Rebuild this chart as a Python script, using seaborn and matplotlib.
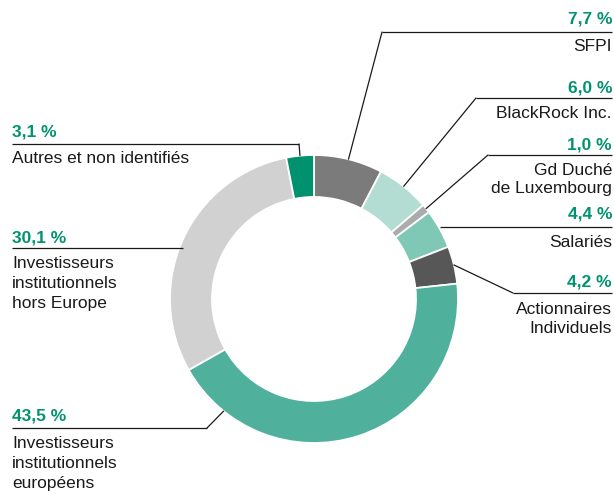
import numpy as np
import matplotlib
matplotlib.use("Agg")
import matplotlib.pyplot as plt
import seaborn as sns

# ---- data ----
categories = ["SFPI", "BlackRock Inc.", "Gd Duché\nde Luxembourg", "Salariés",
              "Actionnaires\nIndividuels", "Investisseurs\ninstitutionnels\neuropéens",
              "Investisseurs\ninstitutionnels\nhors Europe", "Autres et non identifiés"]
values = [7.7, 6.0, 1.0, 4.4, 4.2, 43.5, 30.1, 3.1]
value_labels = ["7,7 %", "6,0 %", "1,0 %", "4,4 %", "4,2 %", "43,5 %", "30,1 %", "3,1 %"]
colors = ["#7b7b7b", "#b3ddd3", "#ababab", "#80c8b6", "#575757", "#4fb19b", "#d1d1d1", "#00916f"]

sns.set_theme(style="white")
plt.rcParams["font.family"] = ["Liberation Sans Narrow", "Liberation Sans", "DejaVu Sans"]

W, H = 614, 494
fig = plt.figure(figsize=(W / 100, H / 100), dpi=100)
ax = fig.add_axes([0, 0, 1, 1])

def Y(py):
    return H - py

cx, cy, R, ring = 314, 299, 144, 42
ax.pie(values, colors=colors, startangle=90, counterclock=False, radius=R,
       center=(cx, Y(cy)), wedgeprops=dict(width=ring, edgecolor="white", linewidth=1.3))
ax.set_xlim(0, W)
ax.set_ylim(0, H)
ax.set_aspect("equal")
ax.axis("off")

# anchor position along the ring (fraction of the whole), mostly wedge midpoints
cum = np.cumsum([0] + values)
mids = (cum[:-1] + cum[1:]) / 2 / 100.0
anchor_frac = list(mids)
anchor_frac[5] = 0.608  # européens connector placed lower-left

def anchor(i):
    a = 2 * np.pi * anchor_frac[i]
    return cx + R * np.sin(a), cy - R * np.cos(a)

green = "#00936f"
lc = "#1a1a1a"
lw = 0.9
fs_v = 12.5
fs_t = 12.5

# label layout: (side, value y, line y, knee x, text y, line spacing)
layout = [
    ("R", 19, 32, 382, 47, 1.25),
    ("R", 88, 98, 476, 114, 1.25),
    ("R", 145, 155, 488, 171, 1.25),
    ("R", 214, 227, None, 243, 1.25),
    ("R", 282, 293, 513, 310, 1.3),
    ("L", 416, 428, 207, 444, 1.43),
    ("L", 238, 248, None, 264, 1.43),
    ("L", 132, 144, 299, 159, 1.3),
]

for i, (side, vy, ly, knee, ty, ls) in enumerate(layout):
    axp, ayp = anchor(i)
    if side == "R":
        xe = 612
        ha = "right"
    else:
        xe = 12
        ha = "left"
    xs = knee if knee is not None else axp
    ax.plot([xe, xs], [Y(ly), Y(ly)], color=lc, lw=lw, solid_capstyle="butt")
    if knee is not None:
        ax.plot([xs, axp], [Y(ly), Y(ayp)], color=lc, lw=lw)
    ax.text(xe, Y(vy), value_labels[i], ha=ha, va="center", color=green,
            fontsize=fs_v, fontweight="bold")
    ax.text(xe, Y(ty) + 8, categories[i], ha=ha, va="top", color="#1a1a1a",
            fontsize=fs_t, linespacing=ls)

fig.savefig("out.png", dpi=100, facecolor="white")
